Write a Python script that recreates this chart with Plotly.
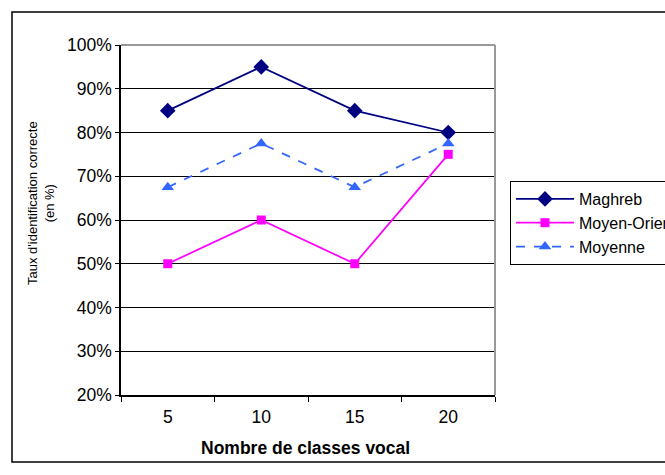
import plotly.graph_objects as go

categories = ["5", "10", "15", "20"]
maghreb = [85, 95, 85, 80]
moyen_orient = [50, 60, 50, 75]
moyenne = [67.5, 77.5, 67.5, 77.5]
y_ticks = [20, 30, 40, 50, 60, 70, 80, 90, 100]
y_tick_labels = [f"{v}%" for v in y_ticks]

fig = go.Figure()
fig.add_trace(go.Scatter(x=categories, y=maghreb, name="Maghreb", mode="lines+markers",
                         line=dict(color="#000080", width=1.75),
                         marker=dict(symbol="diamond", size=12, color="#000080")))
fig.add_trace(go.Scatter(x=categories, y=moyen_orient, name="Moyen-Orient", mode="lines+markers",
                         line=dict(color="#FF00FF", width=1.75),
                         marker=dict(symbol="square", size=9, color="#FF00FF")))
fig.add_trace(go.Scatter(x=categories, y=moyenne, name="Moyenne", mode="lines+markers",
                         line=dict(color="#3366FF", width=1.75, dash="dash"),
                         marker=dict(symbol="triangle-up", size=11, color="#3366FF")))

L, R, T, B = 121, 665 - 495, 45, 475 - 395
PW, PH = 665 - L - R, 475 - T - B

def px(x):
    return (x - L) / PW

def py(y):
    return (475 - B - y) / PH

FONT = "Arial, Liberation Sans, sans-serif"

fig.update_layout(
    width=665, height=475,
    margin=dict(l=L, r=R, t=T, b=B, autoexpand=False),
    paper_bgcolor="white", plot_bgcolor="white",
    font=dict(family=FONT, size=17.5, color="black"),
    showlegend=True,
    legend=dict(x=px(510), y=py(181), xanchor="left", yanchor="top",
                bordercolor="black", borderwidth=1, bgcolor="white",
                font=dict(size=16), itemwidth=58, tracegroupgap=0),
    xaxis=dict(type="category", range=[-0.5, 3.5], showgrid=False,
               showline=True, linecolor="black", linewidth=1.5,
               ticks="outside", tickson="boundaries", ticklen=5, tickcolor="black",
               ticklabelstandoff=5, tickfont=dict(size=17.5)),
    yaxis=dict(range=[20, 100], tickvals=y_ticks, ticktext=y_tick_labels,
               showgrid=True, gridcolor="black", gridwidth=1,
               showline=True, linecolor="black", linewidth=1.5,
               ticks="outside", ticklen=4, tickcolor="black",
               tickfont=dict(size=17.5), zeroline=False),
    shapes=[
        dict(type="line", xref="paper", yref="paper", x0=0, x1=1, y0=1, y1=1,
             line=dict(color="#999999", width=2), layer="above"),
        dict(type="line", xref="paper", yref="paper", x0=1, x1=1, y0=0, y1=1,
             line=dict(color="#999999", width=2), layer="above"),
        dict(type="rect", xref="paper", yref="paper", x0=px(12), x1=px(720),
             y0=py(462), y1=py(12), line=dict(color="black", width=1.5), layer="below"),
    ],
    annotations=[
        dict(text="<b>Nombre de classes vocal</b>", xref="paper", yref="paper",
             x=px(305), y=py(448), showarrow=False, xanchor="center", yanchor="middle",
             font=dict(size=17.5, family=FONT, color="black")),
        dict(text="Taux d'identification correcte<br>(en %)", xref="paper", yref="paper",
             x=px(41), y=py(203), showarrow=False, textangle=-90,
             xanchor="center", yanchor="middle",
             font=dict(size=13, family=FONT, color="black")),
    ],
)

fig.write_html("out.html", config={"displayModeBar": False},
               post_script="document.body.style.margin='0';document.body.style.overflow='hidden';")
